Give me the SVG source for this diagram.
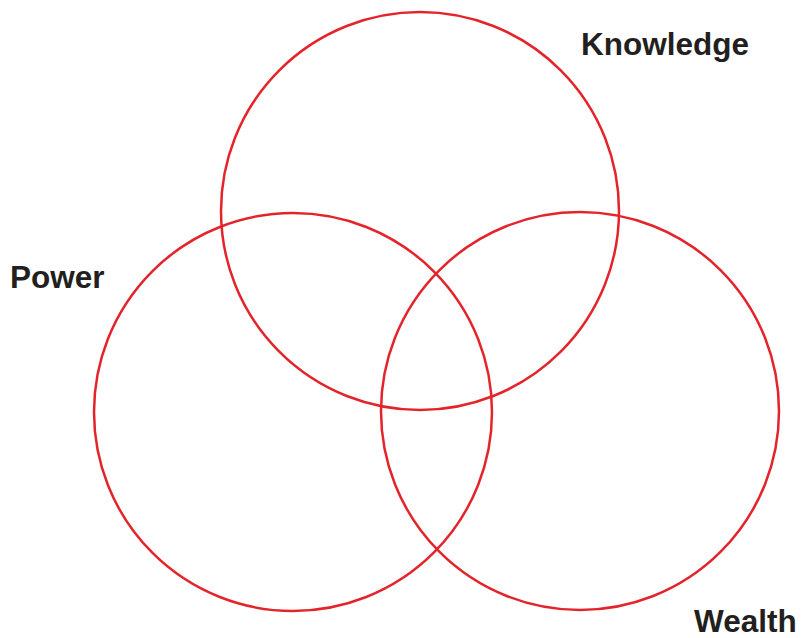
<svg xmlns="http://www.w3.org/2000/svg" width="802" height="638" viewBox="0 0 802 638">
<style>
.c{fill:none;stroke:#e3242b;stroke-width:2.5}
.t{font-family:"Liberation Sans",Arial,sans-serif;font-weight:bold;font-size:31.5px;fill:#231f20}
</style>
<rect width="802" height="638" fill="#fff"/>
<g id="knowledge"><circle class="c" cx="420" cy="211" r="199"/><text class="t" x="581" y="55">Knowledge</text></g>
<g id="power"><circle class="c" cx="293" cy="412" r="199"/><text class="t" x="10" y="288">Power</text></g>
<g id="wealth"><circle class="c" cx="580" cy="411" r="199"/><text class="t" x="694" y="632">Wealth</text></g>
<g id="connectors"/>
</svg>
